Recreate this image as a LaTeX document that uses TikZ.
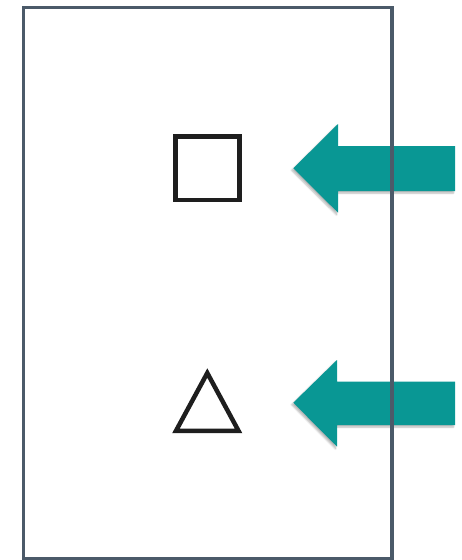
\documentclass[tikz,border=0pt]{standalone}
\usetikzlibrary{shadows.blur}
\definecolor{framegray}{HTML}{4B5A69}
\definecolor{teal1}{HTML}{099794}
\definecolor{ink}{HTML}{1E1E1E}
\tikzset{
  frame/.style={draw=framegray,line width=3.5pt},
  glyph/.style={draw=ink,line width=4.5pt,fill=white},
  bigarrow/.style={fill=teal1,draw=none,blur shadow={shadow xshift=-1.5pt,shadow yshift=-2pt,shadow blur steps=6,shadow opacity=30}}
}
\begin{document}
\begin{tikzpicture}[x=1pt,y=-1pt]
\useasboundingbox (0,0) rectangle (462,560);
% arrows
\fill[bigarrow] (293.3,168.3) -- (338,124) -- (338,146) -- (455,146) -- (455,191) -- (338,191) -- (338,212.7) -- cycle;
\fill[bigarrow] (293.3,402.7) -- (337,360) -- (337,381.7) -- (455,381.7) -- (455,425) -- (337,425) -- (337,446.7) -- cycle;
% frame on top
\draw[frame] (23.5,7.5) rectangle (392,558.5);
% square
\draw[glyph,line join=miter] (175.5,136.5) rectangle (239.5,199.8);
% triangle
\draw[glyph,line join=miter] (207.3,373) -- (238.5,430.8) -- (176,430.8) -- cycle;
\end{tikzpicture}
\end{document}
